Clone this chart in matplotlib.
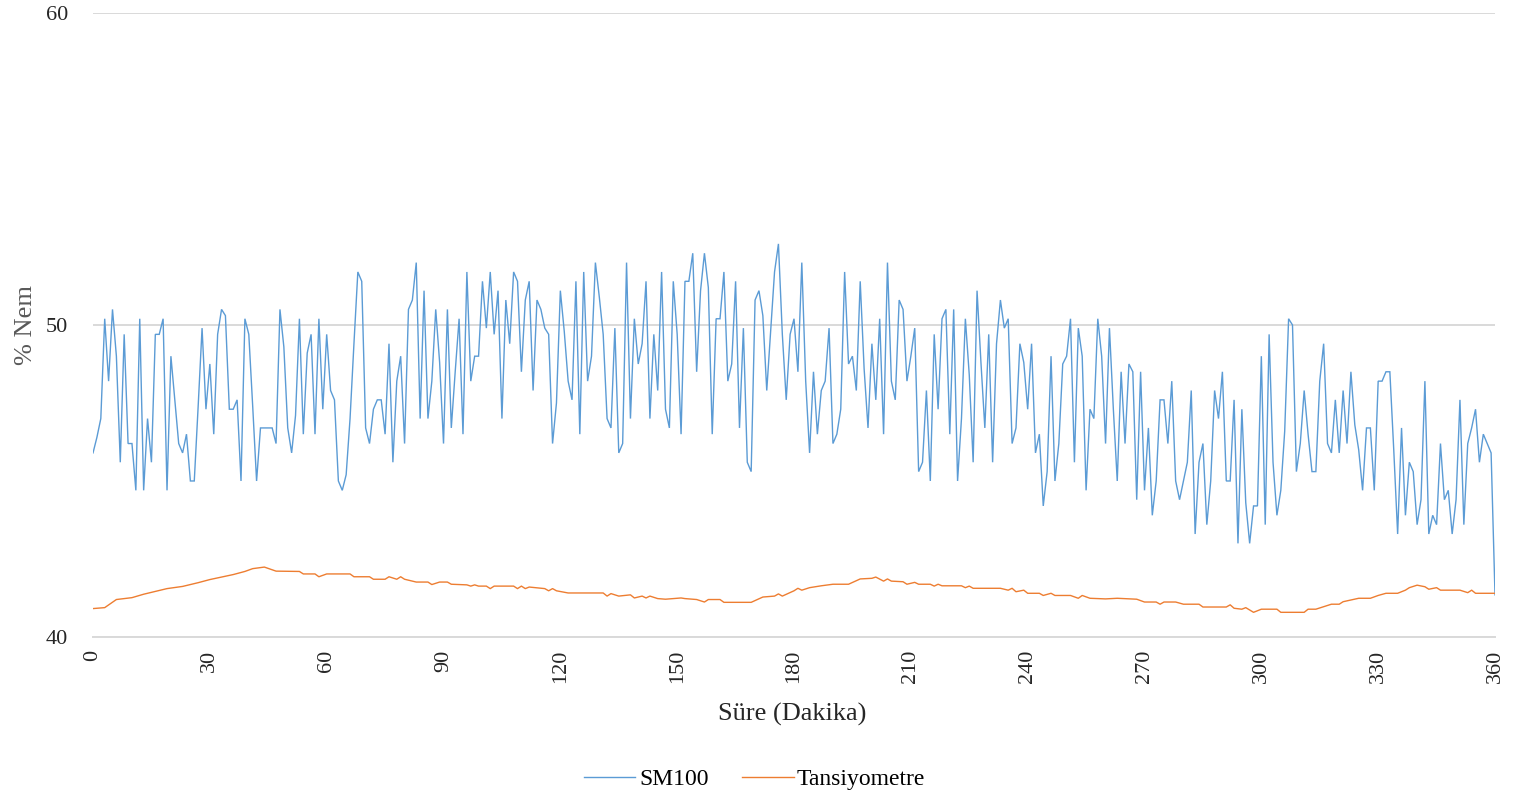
import numpy as np
import matplotlib
matplotlib.use("Agg")
import matplotlib.pyplot as plt

# SM100 soil moisture readings, one per minute (0..360)
sm100 = [
    45.9, 46.4, 47.0, 50.2, 48.2, 50.5, 49.0, 45.6, 49.7, 46.2,
    46.2, 44.7, 50.2, 44.7, 47.0, 45.6, 49.7, 49.7, 50.2, 44.7,
    49.0, 47.6, 46.2, 45.9, 46.5, 45.0, 45.0, 47.4, 49.9, 47.3,
    48.75, 46.5, 49.7, 50.5, 50.3, 47.3, 47.3, 47.6, 45.0, 50.2,
    49.7, 47.4, 45.0, 46.7, 46.7, 46.7, 46.7, 46.2, 50.5, 49.3,
    46.7, 45.9, 47.1, 50.2, 46.5, 49.1, 49.7, 46.5, 50.2, 47.3,
    49.7, 47.9, 47.6, 45.0, 44.7, 45.2, 47.0, 49.4, 51.7, 51.4,
    46.7, 46.2, 47.3, 47.6, 47.6, 46.5, 49.4, 45.6, 48.2, 49.0,
    46.2, 50.5, 50.8, 52.0, 47.0, 51.1, 47.0, 48.2, 50.5, 48.8,
    46.2, 50.5, 46.7, 48.5, 50.2, 46.5, 51.7, 48.2, 49.0, 49.0,
    51.4, 49.9, 51.7, 49.7, 51.1, 47.0, 50.8, 49.4, 51.7, 51.4,
    48.5, 50.8, 51.4, 47.9, 50.8, 50.5, 49.9, 49.7, 46.2, 47.5,
    51.1, 49.8, 48.2, 47.6, 51.4, 46.5, 51.7, 48.2, 49.0, 52.0,
    50.9, 49.7, 47.0, 46.7, 49.9, 45.9, 46.2, 52.0, 47.0, 50.2,
    48.75, 49.4, 51.4, 47.0, 49.7, 47.9, 51.7, 47.3, 46.7, 51.4,
    49.7, 46.5, 51.4, 51.4, 52.3, 48.5, 51.1, 52.3, 51.2, 46.5,
    50.2, 50.2, 51.7, 48.2, 48.75, 51.4, 46.7, 49.9, 45.6, 45.3,
    50.8, 51.1, 50.3, 47.9, 49.8, 51.7, 52.6, 49.7, 47.6, 49.7,
    50.2, 48.5, 52.0, 48.2, 45.9, 48.5, 46.5, 47.9, 48.2, 49.9,
    46.2, 46.5, 47.3, 51.7, 48.75, 49.0, 47.9, 51.4, 48.6, 46.7,
    49.4, 47.6, 50.2, 46.5, 52.0, 48.2, 47.6, 50.8, 50.5, 48.2,
    49.0, 49.9, 45.3, 45.6, 47.9, 45.0, 49.7, 47.3, 50.2, 50.5,
    46.5, 50.5, 45.0, 47.0, 50.2, 48.4, 45.6, 51.1, 48.8, 46.7,
    49.7, 45.6, 49.4, 50.8, 49.9, 50.2, 46.2, 46.7, 49.4, 48.8,
    47.3, 49.4, 45.9, 46.5, 44.2, 45.3, 49.0, 45.0, 46.2, 48.75,
    49.0, 50.2, 45.6, 49.9, 49.0, 44.7, 47.3, 47.0, 50.2, 49.0,
    46.2, 49.9, 47.3, 45.0, 48.5, 46.2, 48.75, 48.5, 44.4, 48.5,
    44.7, 46.7, 43.9, 45.0, 47.6, 47.6, 46.2, 48.2, 45.0, 44.4,
    45.0, 45.6, 47.9, 43.3, 45.6, 46.2, 43.6, 45.0, 47.9, 47.0,
    48.5, 45.0, 45.0, 47.6, 43.0, 47.3, 44.3, 43.0, 44.2, 44.2,
    49.0, 43.6, 49.7, 45.6, 43.9, 44.7, 46.6, 50.2, 50.0, 45.3,
    46.2, 47.9, 46.5, 45.3, 45.3, 48.2, 49.4, 46.2, 45.9, 47.6,
    45.9, 47.9, 46.2, 48.5, 46.8, 46.0, 44.7, 46.7, 46.7, 44.7,
    48.2, 48.2, 48.5, 48.5, 46.0, 43.3, 46.7, 43.9, 45.6, 45.3,
    43.6, 44.4, 48.2, 43.3, 43.9, 43.6, 46.2, 44.4, 44.7, 43.3,
    44.4, 47.6, 43.6, 46.2, 46.7, 47.3, 45.6, 46.5, 46.2, 45.9,
    41.35,
]
sm100_minutes = np.arange(len(sm100))

# Tensiometer readings at the minutes where the value changes
tansiyometre_minutes = [
    0, 3, 6, 10, 13, 16, 19, 23, 27, 30, 33, 36, 39, 41, 44, 47, 53, 54, 57, 58,
    60, 66, 67, 71, 72, 75, 76, 78, 79, 80, 83, 86, 87, 89, 91, 92, 96, 97, 98, 99,
    101, 102, 103, 108, 109, 110, 111, 112, 116, 117, 118, 119, 122, 131, 132, 133,
    135, 138, 139, 141, 142, 143, 145, 147, 151, 152, 155, 157, 158, 161, 162, 169,
    172, 175, 176, 177, 180, 181, 182, 184, 187, 190, 194, 197, 200, 201, 203, 204,
    205, 208, 209, 211, 212, 215, 216, 217, 218, 223, 224, 225, 226, 233, 235, 236,
    237, 239, 240, 243, 244, 246, 247, 251, 253, 254, 256, 260, 263, 268, 270, 273,
    274, 275, 278, 280, 284, 285, 291, 292, 293, 295, 296, 298, 300, 304, 305, 311,
    312, 314, 316, 318, 320, 321, 325, 328, 330, 332, 335, 337, 338, 340, 342, 343,
    345, 346, 351, 353, 354, 355, 360,
]
tansiyometre = [
    40.91, 40.94, 41.20, 41.26, 41.37, 41.46, 41.55, 41.62, 41.74, 41.84, 41.92,
    42.00, 42.10, 42.19, 42.24, 42.11, 42.10, 42.02, 42.02, 41.93,
    42.02, 42.02, 41.93, 41.93, 41.85, 41.85, 41.93, 41.85, 41.93, 41.85,
    41.76, 41.76, 41.68, 41.76, 41.76, 41.69, 41.67, 41.63, 41.67, 41.63,
    41.63, 41.55, 41.63, 41.63, 41.55, 41.63, 41.55, 41.60, 41.55, 41.48,
    41.55, 41.48, 41.41, 41.41, 41.31, 41.39,
    41.31, 41.35, 41.25, 41.31, 41.25, 41.31, 41.23, 41.21, 41.25, 41.23,
    41.20, 41.12, 41.20, 41.20, 41.11, 41.11,
    41.28, 41.31, 41.38, 41.31, 41.48, 41.56, 41.50, 41.58, 41.64, 41.69,
    41.69, 41.86, 41.88, 41.92, 41.79, 41.86,
    41.79, 41.77, 41.69, 41.75, 41.69, 41.69, 41.63, 41.69, 41.64, 41.64,
    41.58, 41.63, 41.56, 41.56, 41.50, 41.56,
    41.45, 41.50, 41.40, 41.40, 41.33, 41.40, 41.33, 41.33, 41.24, 41.33,
    41.24, 41.22, 41.24, 41.21, 41.12, 41.12,
    41.05, 41.12, 41.12, 41.05, 41.05, 40.96, 40.96, 41.03, 40.92, 40.89,
    40.94, 40.79, 40.89, 40.89, 40.79, 40.79,
    40.89, 40.89, 40.97, 41.05, 41.05, 41.13, 41.24, 41.24, 41.33, 41.40,
    41.40, 41.50, 41.58, 41.66, 41.61, 41.53,
    41.58, 41.50, 41.50, 41.42, 41.50, 41.40, 41.40,
]

x_ticks = list(range(0, 361, 30))
y_ticks = [40, 50, 60]

plt.rcParams["font.family"] = ["Liberation Serif", "DejaVu Serif"]

fig = plt.figure(figsize=(15.15, 7.98), dpi=100)
ax = fig.add_axes([0.0614, 0.2018, 0.9254, 0.7819])

ax.plot(sm100_minutes, sm100, color="#5B9BD5", lw=1.0, label="SM100",
        solid_joinstyle="miter", zorder=3)
ax.plot(tansiyometre_minutes, tansiyometre, color="#ED7D31", lw=1.0,
        label="Tansiyometre", zorder=3)

ax.set_xlim(0, 360)
ax.set_ylim(40, 60)
ax.set_xticks(x_ticks)
ax.set_yticks(y_ticks)
ax.set_xticklabels([str(t) for t in x_ticks], rotation=90, fontsize=16,
                   color="#262626")
ax.set_yticklabels([str(t) for t in y_ticks], fontsize=16, color="#262626")
ax.tick_params(axis="both", length=0)
ax.tick_params(axis="y", pad=18)
ax.tick_params(axis="x", pad=9)

ax.grid(axis="y", color="#D9D9D9", lw=1.4, zorder=0)
for side in ("top", "right", "left"):
    ax.spines[side].set_visible(False)
ax.spines["bottom"].set_color("#D9D9D9")
ax.spines["bottom"].set_linewidth(1.4)

ax.set_xlabel("Süre (Dakika)", fontsize=19, color="#262626")
ax.xaxis.set_label_coords(0.4986, -0.105)
ax.set_ylabel("% Nem", fontsize=19, color="#595959")
ax.yaxis.set_label_coords(-0.04, 0.5)

fig.legend(loc="center", bbox_to_anchor=(0.498, 0.023), ncol=2, frameon=False,
           fontsize=17, handlelength=2.2, handletextpad=0.15, columnspacing=1.4)

fig.savefig("out.png", dpi=100)
